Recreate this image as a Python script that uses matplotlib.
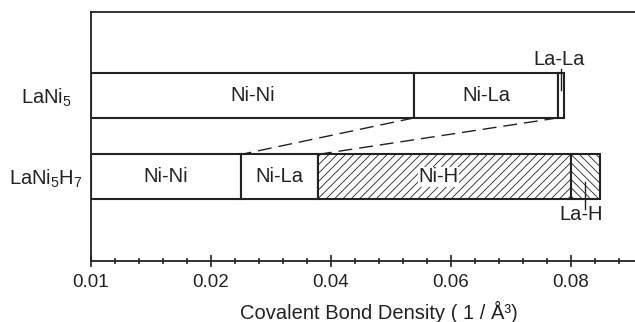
import numpy as np
import matplotlib
matplotlib.use('Agg')
from matplotlib import pyplot as plt

plt.rcParams['font.family'] = ['Liberation Sans', 'DejaVu Sans']
plt.rcParams['mathtext.fontset'] = 'custom'
plt.rcParams['mathtext.rm'] = 'Liberation Sans'
plt.rcParams['mathtext.it'] = 'Liberation Sans'
plt.rcParams['hatch.linewidth'] = 0.6

# compounds and their bond contributions (left to right)
compounds = ['LaNi$_5$', 'LaNi$_5$H$_7$']
bonds_a = ['Ni-Ni', 'Ni-La', 'La-La']
vals_a = [0.0539, 0.0240, 0.0009]
bonds_b = ['Ni-Ni', 'Ni-La', 'Ni-H', 'La-H']
vals_b = [0.0250, 0.0128, 0.0422, 0.0048]
hatch_b = ['', '', '////', '\\\\\\\\']

tick_pos = [0.0, 0.02, 0.04, 0.06, 0.08]
tick_lab = ['0.01', '0.02', '0.04', '0.06', '0.08']

INK = '#222222'
FS = 14.5
fig = plt.figure(figsize=(6.35, 3.22), dpi=100)
ax = fig.add_axes([0.1433, 0.1894, 0.8567, 0.7733])

ya, yb, h = 0.665, 0.338, 0.18

def draw(y, vals, hatches):
  left = 0.0
  edges = []
  for v, ht in zip(vals, hatches):
    ax.barh(y, v, left=left, height=h, facecolor='white', edgecolor=INK,
            linewidth=1.5, hatch=ht)
    left += v
    edges.append(left)
  return edges

ea = draw(ya, vals_a, ['', '', ''])
eb = draw(yb, vals_b, hatch_b)

# labels inside the wide segments
ax.text(ea[0] / 2, ya, bonds_a[0], ha='center', va='center', fontsize=FS, color=INK)
ax.text((ea[0] + ea[1]) / 2, ya, bonds_a[1], ha='center', va='center', fontsize=FS, color=INK)
ax.text(eb[0] / 2, yb, bonds_b[0], ha='center', va='center', fontsize=FS, color=INK)
ax.text((eb[0] + eb[1]) / 2, yb, bonds_b[1], ha='center', va='center', fontsize=FS, color=INK)
ax.text((eb[1] + eb[2]) / 2 - 0.001, yb, bonds_b[2], ha='center', va='center', fontsize=FS,
        color=INK, bbox=dict(facecolor='white', edgecolor='none', pad=0.3))

# small segments labelled outside
xll = (ea[1] + ea[2]) / 2
ax.plot([xll, xll], [ya + h / 2 - 0.07, ya + h / 2 + 0.015], color=INK, lw=1)
ax.text(xll - 0.0003, ya + h / 2 + 0.015, bonds_a[2], ha='center', va='bottom', fontsize=FS, color=INK)
xlh = (eb[2] + eb[3]) / 2
ax.plot([xlh, xlh], [yb - 0.02, yb - h / 2 - 0.04], color=INK, lw=1)
ax.text(xlh - 0.0007, yb - h / 2 - 0.025, bonds_b[3], ha='center', va='top', fontsize=FS, color=INK)

# dashed connectors
for i in range(2):
  ax.plot([ea[i], eb[i]], [ya - h / 2, yb + h / 2], color=INK, lw=1,
          dashes=(10, 5))

# compound names, centred left of the axis
for name, y in zip(compounds, [ya, yb]):
  ax.text(-0.0827, y - 0.01, name, transform=ax.get_yaxis_transform(),
          ha='center', va='center', fontsize=FS, color=INK)

ax.set_xlim(0, 0.0907)
ax.set_ylim(0, 1)
ax.set_xticks(tick_pos)
ax.set_xticklabels(tick_lab, fontsize=13.5, color=INK)
ax.set_xticks(np.arange(0, 0.0907, 0.004), minor=True)
ax.tick_params(axis='x', which='major', direction='inout', length=9, width=1.2, color=INK, pad=5)
ax.tick_params(axis='x', which='minor', direction='inout', length=4, width=1.2, color=INK)
ax.set_yticks([])
ax.set_xlabel('Covalent Bond Density ( 1 / Å³)', fontsize=FS, color=INK)
ax.xaxis.label.set_va('center')
ax.xaxis.set_label_coords(0.529, -0.205)
ax.spines['right'].set_visible(False)
for s in ['left', 'top', 'bottom']:
  ax.spines[s].set_linewidth(1.3)
  ax.spines[s].set_color(INK)

fig.savefig('out.png', dpi=100)
